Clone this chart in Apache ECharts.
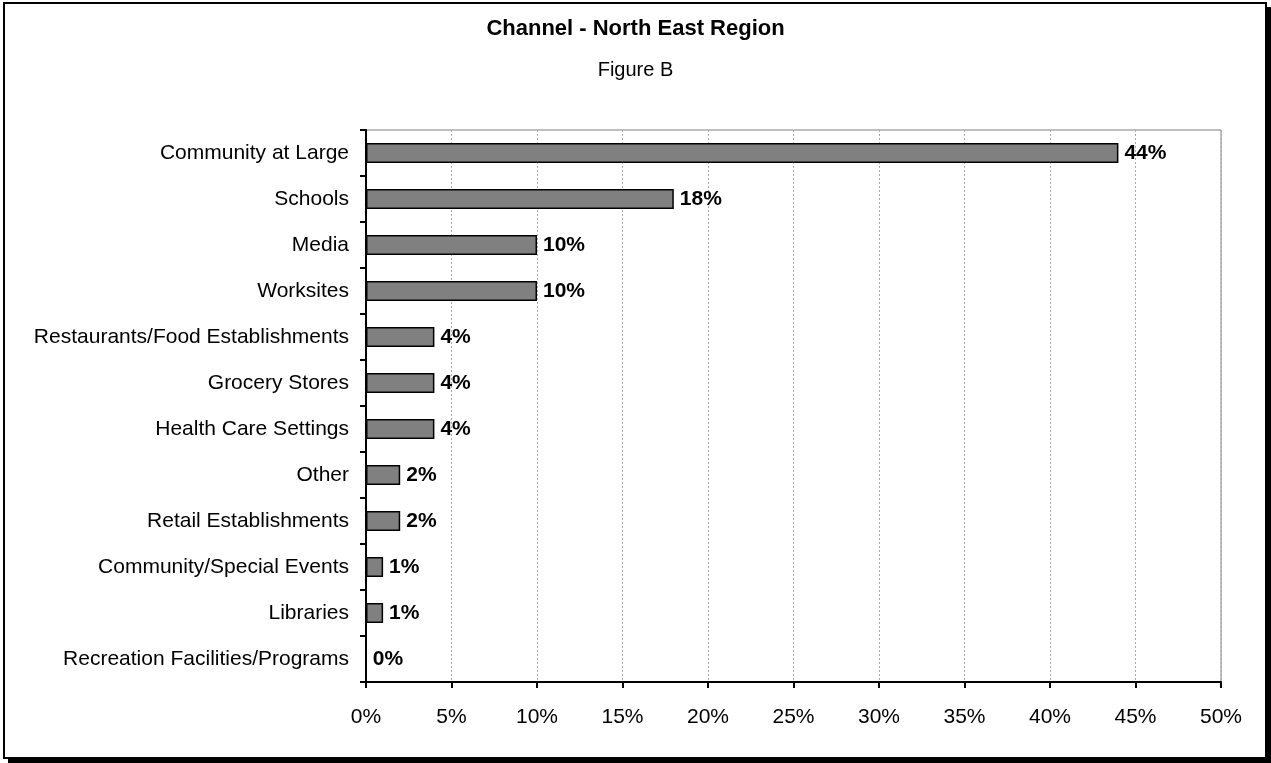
<!DOCTYPE html>
<html>
<head>
<meta charset="utf-8">
<style>
  html, body { margin: 0; padding: 0; background: #fff; }
  #chart { width: 1271px; height: 763px; }
</style>
<script src="https://cdn.jsdelivr.net/npm/echarts@6/dist/echarts.min.js"></script>
</head>
<body>
<div id="chart"></div>
<script>
// Channel shares for the North East region (percent of responses)
const categories = [
  'Community at Large',
  'Schools',
  'Media',
  'Worksites',
  'Restaurants/Food Establishments',
  'Grocery Stores',
  'Health Care Settings',
  'Other',
  'Retail Establishments',
  'Community/Special Events',
  'Libraries',
  'Recreation Facilities/Programs'
];
const shares = [44, 18, 10, 10, 4, 4, 4, 2, 2, 1, 1, 0];
const titleText = 'Channel - North East Region';
const subtitleText = 'Figure B';

const FONT = '"Liberation Sans", Arial, sans-serif';
const chart = echarts.init(document.getElementById('chart'), null, { renderer: 'canvas' });

chart.setOption({
  backgroundColor: '#ffffff',
  animation: false,
  graphic: [
    // drop shadow of the outer frame
    { type: 'rect', z: -10, shape: { x: 8, y: 7, width: 1263, height: 756 }, style: { fill: '#000' } },
    // outer frame
    { type: 'rect', z: -9, shape: { x: 4, y: 3, width: 1262, height: 755 },
      style: { fill: '#fff', stroke: '#000', lineWidth: 2 } }
  ],
  title: [
    { text: titleText, left: 'center', top: 13,
      textStyle: { fontFamily: FONT, fontSize: 22, fontWeight: 'bold', color: '#000' } },
    { text: subtitleText, left: 'center', top: 55,
      textStyle: { fontFamily: FONT, fontSize: 20, fontWeight: 'normal', color: '#000' } }
  ],
  grid: {
    left: 366, right: 50, top: 130, bottom: 81,
    show: true, borderColor: '#808080', borderWidth: 1, backgroundColor: '#fff'
  },
  xAxis: {
    type: 'value', min: 0, max: 50, interval: 5,
    axisLine: { show: true, lineStyle: { color: '#000', width: 2 } },
    axisTick: { show: true, inside: false, length: 6, lineStyle: { color: '#000', width: 2 } },
    axisLabel: { formatter: '{value}%', margin: 25, fontFamily: FONT, fontSize: 21, color: '#000' },
    splitLine: { show: true, lineStyle: { color: '#aaa', type: [2, 2], width: 1 } }
  },
  yAxis: {
    type: 'category', data: categories, inverse: true,
    axisLine: { show: true, lineStyle: { color: '#000', width: 2 } },
    axisTick: { show: true, inside: false, length: 6, alignWithLabel: false, lineStyle: { color: '#000', width: 2 } },
    axisLabel: { margin: 17, fontFamily: FONT, fontSize: 21, color: '#000' },
    splitLine: { show: false }
  },
  series: [{
    type: 'bar',
    data: shares,
    barWidth: 20,
    itemStyle: { color: '#808080', borderColor: '#000', borderWidth: 1.5 },
    label: {
      show: true, position: 'right', distance: 6, formatter: '{c}%',
      fontFamily: FONT, fontSize: 21, fontWeight: 'bold', color: '#000'
    }
  }]
});
</script>
</body>
</html>
